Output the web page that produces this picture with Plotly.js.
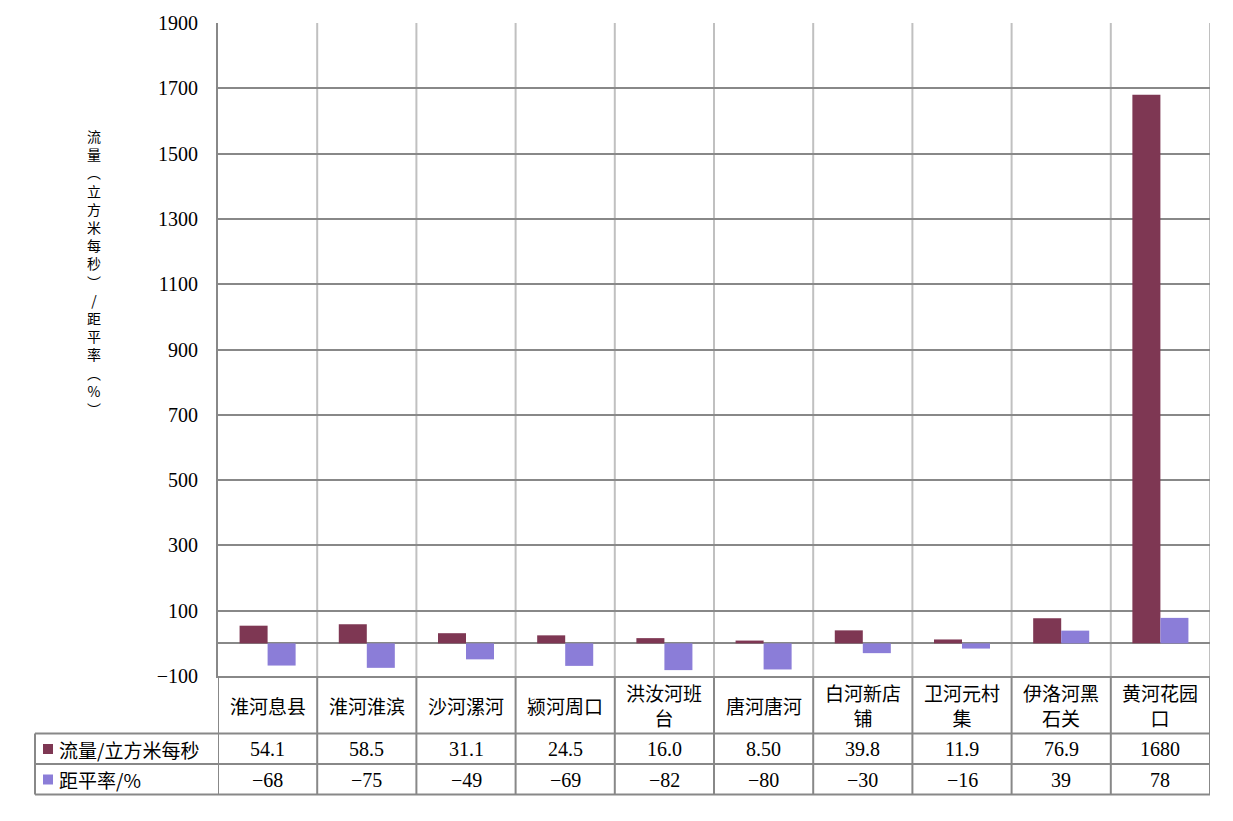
<!DOCTYPE html>
<html>
<head>
<meta charset="utf-8">
<script src="https://cdn.plot.ly/plotly-3.0.1.min.js"></script>
<style>html,body{margin:0;padding:0;background:#fff;}#chart{width:1233px;height:821px;}</style>
</head>
<body>
<div id="chart"></div>
<script>
const categories = ['淮河息县','淮河淮滨','沙河漯河','颍河周口','洪汝河班台','唐河唐河','白河新店铺','卫河元村集','伊洛河黑石关','黄河花园口'];
const flow = [54.1, 58.5, 31.1, 24.5, 16.0, 8.50, 39.8, 11.9, 76.9, 1680];
const anomaly = [-68, -75, -49, -69, -82, -80, -30, -16, 39, 78];
const seriesNames = ['流量/立方米每秒', '距平率/%'];
const yTitle = '流量（立方米每秒）/距平率（%）';
const yTicks = [-100, 100, 300, 500, 700, 900, 1100, 1300, 1500, 1700, 1900];

const colors = ['#7E3753', '#8B7DD8'];
const darkLine = '#888888';
const lightLine = '#C0C0C0';
const cjk = '"Noto Sans CJK SC", sans-serif';
const serif = '"Liberation Serif", serif';

// layout geometry (pixels)
const W = 1233, H = 821, L = 218, R = 23, T = 23, B = 145;
const pw = W - L - R, ph = H - T - B;
const px = x => (x - L) / pw;
const py = y => (H - B - y) / ph;

const fmtFlow = v => v >= 1000 ? String(v) : v.toPrecision(3);
const wrap4 = s => s.match(/.{1,4}/g).join('<br>');

const traces = [
  {type: 'bar', x: categories, y: flow, name: seriesNames[0], marker: {color: colors[0], line: {width: 0}}},
  {type: 'bar', x: categories, y: anomaly, name: seriesNames[1], marker: {color: colors[1], line: {width: 0}}}
];

const shapes = [];
const annotations = [];
const n = categories.length;

// light vertical separators inside plot
for (let i = 0; i < n; i++) {
  shapes.push({type: 'line', xref: 'x', yref: 'paper', x0: i + 0.5, x1: i + 0.5, y0: 0, y1: 1,
    line: {color: lightLine, width: 2}, layer: 'below'});
}
// dark vertical separators below plot (labels + table)
for (let i = -1; i < n; i++) {
  shapes.push({type: 'line', xref: 'x', yref: 'paper', x0: i + 0.5, x1: i + 0.5, y0: py(676), y1: py(794.5),
    line: {color: darkLine, width: 2}});
}
// table horizontal lines
[733.5, 764, 794.5].forEach(yy => {
  shapes.push({type: 'line', xref: 'paper', yref: 'paper', x0: px(35), x1: 1, y0: py(yy), y1: py(yy),
    line: {color: darkLine, width: 2}});
});
// table left border
shapes.push({type: 'line', xref: 'paper', yref: 'paper', x0: px(35), x1: px(35), y0: py(733.5), y1: py(794.5),
  line: {color: darkLine, width: 2}});

// legend keys + row headers
const rowY = [749, 779.5];
seriesNames.forEach((nm, k) => {
  shapes.push({type: 'rect', xref: 'paper', yref: 'paper', x0: px(43), x1: px(53),
    y0: py(rowY[k] + 5), y1: py(rowY[k] - 5), fillcolor: colors[k], line: {width: 0}});
  annotations.push({xref: 'paper', yref: 'paper', x: px(57), y: py(rowY[k]), xanchor: 'left', yanchor: 'middle',
    text: nm, showarrow: false, font: {family: cjk, size: 19, color: '#000'}});
});

// category labels + table values
categories.forEach((c, i) => {
  annotations.push({xref: 'x', yref: 'paper', x: c, y: py(705), xanchor: 'center', yanchor: 'middle',
    text: wrap4(c), showarrow: false, font: {family: cjk, size: 19, color: '#000'}});
  annotations.push({xref: 'x', yref: 'paper', x: c, y: py(rowY[0]), xanchor: 'center', yanchor: 'middle',
    text: fmtFlow(flow[i]), showarrow: false, font: {family: serif, size: 20, color: '#000'}});
  annotations.push({xref: 'x', yref: 'paper', x: c, y: py(rowY[1]), xanchor: 'center', yanchor: 'middle',
    text: String(anomaly[i]).replace('-', '−'), showarrow: false, font: {family: serif, size: 20, color: '#000'}});
});

// vertical y-axis title: one glyph per line in a single text (brackets as vertical forms)
const vertForms = {'（': '︵', '）': '︶'};
annotations.push({xref: 'paper', yref: 'paper', x: px(94), y: py(272), xanchor: 'center', yanchor: 'middle',
  text: Array.from(yTitle).map(ch => vertForms[ch] || ch).join('<br>'), showarrow: false,
  font: {family: cjk, size: 14, color: '#000'}});

const layout = {
  width: W, height: H,
  margin: {l: L, r: R, t: T, b: B, pad: 0},
  paper_bgcolor: '#fff', plot_bgcolor: '#fff',
  showlegend: false,
  barmode: 'group', bargap: 0.435, bargroupgap: 0,
  xaxis: {type: 'category', range: [-0.5, n - 0.5], showticklabels: false, showgrid: false, zeroline: false,
    showline: true, linecolor: darkLine, linewidth: 2, ticks: ''},
  yaxis: {range: [-100, 1900], tickmode: 'array', tickvals: yTicks, ticktext: yTicks.map(v => String(v).replace('-', '−')),
    showgrid: true, gridcolor: darkLine, gridwidth: 2,
    zeroline: true, zerolinecolor: darkLine, zerolinewidth: 2,
    showline: true, linecolor: darkLine, linewidth: 2, ticks: '', ticklabelstandoff: 14,
    tickfont: {family: serif, size: 20, color: '#000'}},
  shapes: shapes,
  annotations: annotations
};

Plotly.newPlot('chart', traces, layout, {staticPlot: true, displayModeBar: false});
</script>
</body>
</html>
